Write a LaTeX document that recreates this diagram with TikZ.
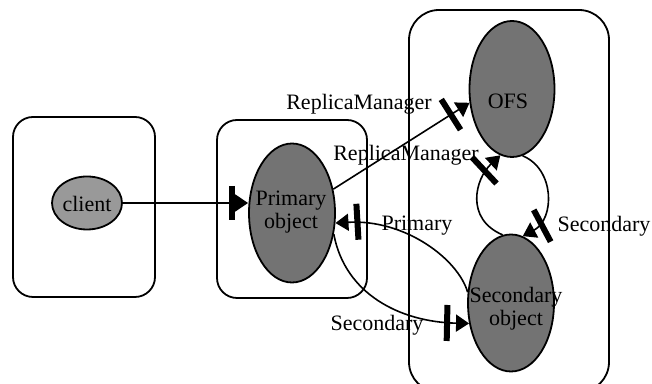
\documentclass[tikz,border=0pt]{standalone}
\usepackage{fontspec}
\setmainfont{Liberation Serif}
\usetikzlibrary{shapes.geometric, arrows.meta, positioning}
\tikzset{
  group/.style={
    draw, line width=0.9pt, rounded corners=10pt, inner sep=0pt
  },
  obj/.style={
    ellipse, draw, line width=0.9pt, fill=black!55, inner sep=0pt
  },
  objtext/.style={
    align=center, inner sep=0pt, font=\fontsize{11}{11.5}\selectfont
  },
  lbl/.style={
    inner sep=0pt, font=\fontsize{11}{11.5}\selectfont
  },
  link/.style={
    line width=0.8pt,
    -{Bar[width=18pt, line width=3pt, sep=3pt]Triangle[length=6.5pt, width=8.5pt]}
  },
  linkclose/.style={
    line width=0.8pt,
    -{Bar[width=17pt, line width=3pt]Triangle[length=6.5pt, width=8.5pt]}
  }
}

\begin{document}
\begin{tikzpicture}[x=0.5pt, y=0.5pt]
  \useasboundingbox (0,0) rectangle (652,384);
  % boxes
  \node[group, minimum width=71pt, minimum height=90pt] (clientbox) at (84,177) {};
  \node[group, minimum width=75pt, minimum height=89pt] (primarybox) at (292,175) {};
  \node[group, rounded corners=15pt, minimum width=100pt, minimum height=191pt] (serverbox) at (509,183) {};
  % objects
  \node[obj, fill=black!40, minimum width=35pt, minimum height=26.5pt] (client) at (87,181) {};
  \node[obj, minimum width=43pt, minimum height=69.5pt] (primary) at (292,171) {};
  \node[obj, minimum width=42.5pt, minimum height=68pt] (ofs) at (512,295) {};
  \node[obj, minimum width=43pt, minimum height=68.5pt] (secondary) at (511,81) {};
  \node[objtext] (clienttext) at (87,180) {client};
  \node[objtext] (primarytext) at (291,172) {Primary\\object};
  \node[objtext] (ofstext) at (508,283) {OFS};
  \node[objtext] (secondarytext) at (516,75) {Secondary\\object};
  % links
  \draw[linkclose] (client.east) -- (client.east -| primary.west);
  \draw[link] (primary.30) -- (ofs.198);
  \draw[link] (secondary.166) .. controls (458,125) and (405,165) .. (primary.-13);
  \draw[link] (primary.-27) .. controls (345,90) and (400,62) .. (secondary.206);
  \draw[link] (secondary.97) .. controls (465,165) and (475,205) .. (ofs.260);
  \draw[link] (ofs.-81) .. controls (555,215) and (555,165) .. (secondary.80);
  % labels
  \node[lbl] (rmtop) at (359,280) {ReplicaManager};
  \node[lbl] (rmloop) at (406,229) {ReplicaManager};
  \node[lbl] (primarylbl) at (417,158) {Primary};
  \node[lbl] (secondarylbl) at (377,59) {Secondary};
  \node[lbl] (secondaryloop) at (604,158) {Secondary};
\end{tikzpicture}
\end{document}
